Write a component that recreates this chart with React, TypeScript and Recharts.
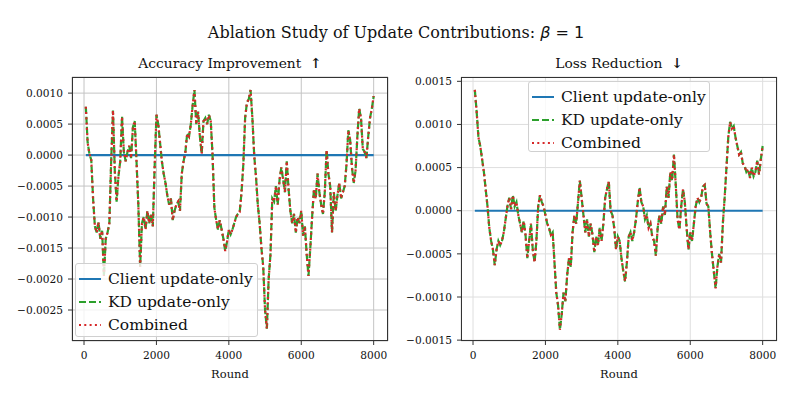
import { LineChart, Line, XAxis, YAxis, CartesianGrid } from "recharts";

const FONT = '"DejaVu Serif", serif';
const BLUE = "#1f77b4";
const GREEN = "#2ca02c";
const RED = "#d62728";

// rounds 50..8000, one sample every 50 rounds
const rounds = Array.from({ length: 160 }, (_, i) => (i + 1) * 50);

const xTicks = [0, 2000, 4000, 6000, 8000];
const accTicks = [-0.0025, -0.002, -0.0015, -0.001, -0.0005, 0, 0.0005, 0.001];
const lossTicks = [-0.0015, -0.001, -0.0005, 0, 0.0005, 0.001, 0.0015];

// Accuracy improvement (left panel)
const accuracyKd = [
  7.8e-4, 2.0e-4, 0.2e-4, -0.8e-4, -7e-4, -11.5e-4, -12.5e-4, -10.8e-4, -13.5e-4, -12.2e-4,
  -19.5e-4, -13.5e-4, -12.5e-4, -11e-4, -1e-4, 7.2e-4, -2.5e-4, -7.5e-4, -3.5e-4, -1e-4,
  6.2e-4, 0.5e-4, -1e-4, 0.5e-4, 1.5e-4, -0.5e-4, 4.5e-4, 5.5e-4, -1e-4, -8e-4,
  -18e-4, -11e-4, -10e-4, -12e-4, -9e-4, -11e-4, -9.5e-4, -11.5e-4, -2e-4, 6.5e-4,
  5e-4, 2e-4, -1e-4, -3e-4, -4.5e-4, -6.5e-4, -8e-4, -7e-4, -10.5e-4, -9e-4,
  -8e-4, -7.5e-4, -9e-4, -3e-4, -1e-4, 0.5e-4, 3.5e-4, 3e-4, 5e-4, 8e-4,
  10.5e-4, 5e-4, 7e-4, 3e-4, 0.2e-4, 5.5e-4, 6e-4, 5e-4, 6.5e-4, 5.5e-4,
  0, -8.5e-4, -10.5e-4, -12e-4, -10.5e-4, -12e-4, -13.5e-4, -15.5e-4, -14e-4, -12e-4,
  -12.8e-4, -12e-4, -11e-4, -10e-4, -9.5e-4, -9.2e-4, -6e-4, -1.5e-4, 6e-4, 8.5e-4,
  9e-4, 10.5e-4, 6e-4, 0, -3.5e-4, -8e-4, -11e-4, -15e-4, -18e-4, -25e-4,
  -28e-4, -20e-4, -16e-4, -7e-4, -7.5e-4, -5e-4, -8e-4, -4e-4, -2e-4, -4e-4,
  -6e-4, -1e-4, -5.5e-4, -9e-4, -11e-4, -9.5e-4, -12.5e-4, -10e-4, -11e-4, -9e-4,
  -13e-4, -11.5e-4, -16e-4, -19.5e-4, -15e-4, -10e-4, -5.5e-4, -7e-4, -3e-4, -6e-4,
  -8e-4, -9.5e-4, -6e-4, 0.8e-4, -3e-4, -5e-4, -12.5e-4, -6e-4, -9e-4, -6.5e-4,
  -4.5e-4, -7e-4, -6e-4, -5e-4, -1.5e-4, 4e-4, 2.5e-4, -2e-4, -4.5e-4, -2.5e-4,
  3e-4, 7.5e-4, 6e-4, 1e-4, 0.5e-4, -0.5e-4, 3e-4, 6e-4, 7.5e-4, 9.5e-4,
];
const accuracyCombined = accuracyKd;
const accuracyClient = rounds.map(() => 0);

// Loss reduction (right panel)
const lossKd = [
  14e-4, 11.5e-4, 8.5e-4, 7.5e-4, 6e-4, 4.5e-4, 2.5e-4, 0.5e-4, -2e-4, -3.5e-4,
  -4.5e-4, -6.3e-4, -4.5e-4, -3.5e-4, -4e-4, -3.5e-4, -2.5e-4, -1e-4, 0.5e-4, 1.5e-4,
  0.2e-4, 1.8e-4, 0.5e-4, 1e-4, -0.5e-4, -1.5e-4, -2.5e-4, -1.2e-4, -2.8e-4, -5.5e-4,
  -3.5e-4, -1.5e-4, -4.5e-4, -6e-4, -3.5e-4, 0.5e-4, 1.8e-4, 1e-4, 0.5e-4, -0.5e-4,
  -1.5e-4, -2e-4, -2.8e-4, -2.5e-4, -6e-4, -9.5e-4, -11e-4, -13.8e-4, -12e-4, -9.5e-4,
  -10.5e-4, -7.5e-4, -5.5e-4, -6.5e-4, -2.5e-4, -0.5e-4, -1.5e-4, 1e-4, 3.5e-4, 1.5e-4,
  -0.5e-4, -2.5e-4, -1e-4, -3e-4, -1.5e-4, -2.8e-4, -4.8e-4, -3e-4, -4e-4, -2e-4,
  -3.5e-4, -1.5e-4, 1.5e-4, 2.5e-4, 3.4e-4, 0, -0.5e-4, -2e-4, -4.5e-4, -3e-4,
  -3.5e-4, -5.5e-4, -7e-4, -8.2e-4, -6e-4, -3e-4, -2.5e-4, -3.5e-4, -2.5e-4, -1e-4,
  1e-4, 2.7e-4, 1e-4, 0.5e-4, -1e-4, -0.5e-4, -2e-4, -1.5e-4, -3e-4, -3.5e-4,
  -5.2e-4, -2e-4, -0.5e-4, -1.5e-4, 0.5e-4, -0.5e-4, 2.8e-4, 1.5e-4, 4.5e-4, 3.5e-4,
  6.5e-4, 3e-4, -1e-4, -2.2e-4, 0.5e-4, 2.5e-4, 1e-4, -2e-4, -4.5e-4, -2.5e-4,
  -3.5e-4, -1.5e-4, 0.5e-4, 1.5e-4, 1e-4, 1.5e-4, 2.8e-4, 3e-4, 0.8e-4, 0.5e-4,
  -2.5e-4, -5e-4, -7e-4, -9e-4, -6.5e-4, -5e-4, -6e-4, -1.5e-4, 1.5e-4, 5e-4,
  8.5e-4, 10.3e-4, 9.5e-4, 9.8e-4, 8.5e-4, 7.5e-4, 6.5e-4, 6.8e-4, 5.5e-4, 5.2e-4,
  4.5e-4, 4.8e-4, 3.8e-4, 5e-4, 4e-4, 4.5e-4, 5.8e-4, 4.2e-4, 6e-4, 7.5e-4,
];
const lossCombined = lossKd;
const lossClient = rounds.map(() => 0);

const accuracyData = rounds.map((r, i) => ({
  round: r,
  client: accuracyClient[i],
  kd: accuracyKd[i],
  combined: accuracyCombined[i],
}));
const lossData = rounds.map((r, i) => ({
  round: r,
  client: lossClient[i],
  kd: lossKd[i],
  combined: lossCombined[i],
}));

const fmt = (v: number) => v.toFixed(4).replace("-", "\u2212");
const tickStyle = { fontFamily: FONT, fontSize: 10.6, fill: "#111" };

function Legend({ left, top, width, height }: { left: number; top: number; width: number; height: number }) {
  const items = [
    { label: "Client update-only", color: BLUE, dash: undefined },
    { label: "KD update-only", color: GREEN, dash: "7 3" },
    { label: "Combined", color: RED, dash: "2 3.3" },
  ];
  return (
    <div
      style={{
        position: "absolute",
        left,
        top,
        width,
        height,
        background: "rgba(255,255,255,0.8)",
        border: "1px solid #d0d0d0",
        borderRadius: 3,
        boxSizing: "border-box",
        paddingTop: 3,
      }}
    >
      {items.map((it) => (
        <div key={it.label} style={{ display: "flex", alignItems: "center", height: 23 }}>
          <svg width={30} height={10} style={{ marginLeft: 2 }}>
            <line x1={1} y1={5} x2={23} y2={5} stroke={it.color} strokeWidth={2} strokeDasharray={it.dash} />
          </svg>
          <span style={{ fontFamily: FONT, fontSize: 15.5, color: "#111", whiteSpace: "nowrap" }}>{it.label}</span>
        </div>
      ))}
    </div>
  );
}

function Text({ x, y, size, children }: { x: number; y: number; size: number; children: React.ReactNode }) {
  return (
    <div
      style={{
        position: "absolute",
        left: x,
        top: y,
        transform: "translate(-50%, -50%)",
        fontFamily: FONT,
        fontSize: size,
        lineHeight: 1,
        color: "#111",
        whiteSpace: "nowrap",
      }}
    >
      {children}
    </div>
  );
}

function Panel({
  data,
  ticks,
  domain,
  yWidth,
  width,
  rightMargin,
  gridColor,
}: {
  data: typeof accuracyData;
  ticks: number[];
  domain: [number, number];
  yWidth: number;
  width: number;
  rightMargin: number;
  gridColor: string;
}) {
  return (
    <LineChart width={width} height={397} data={data} margin={{ top: 77, right: rightMargin, bottom: 26, left: 0 }}>
      <CartesianGrid stroke={gridColor} strokeWidth={1} />
      <XAxis
        dataKey="round"
        type="number"
        domain={[-332, 8396]}
        ticks={xTicks}
        height={30}
        axisLine={false}
        tickLine={{ stroke: "#333" }}
        tickSize={4}
        tickMargin={6}
        tick={tickStyle}
      />
      <YAxis
        type="number"
        domain={domain}
        ticks={ticks}
        width={yWidth}
        allowDataOverflow
        axisLine={false}
        tickLine={{ stroke: "#333" }}
        tickSize={4}
        tickMargin={5}
        tick={tickStyle}
        tickFormatter={fmt}
      />
      <Line dataKey="client" stroke={BLUE} strokeWidth={2.2} dot={false} isAnimationActive={false} />
      <Line dataKey="kd" stroke={GREEN} strokeWidth={2.2} strokeDasharray="7 3" dot={false} isAnimationActive={false} />
      <Line dataKey="combined" stroke={RED} strokeWidth={2.2} strokeDasharray="2 3.3" dot={false} isAnimationActive={false} />
    </LineChart>
  );
}

export default function App() {
  return (
    <div style={{ position: "absolute", left: 0, top: 0, width: 793, height: 397, background: "#fff", overflow: "hidden" }}>
      <div style={{ position: "absolute", left: 0, top: 0 }}>
        <Panel data={accuracyData} ticks={accTicks} domain={[-0.003, 0.00126]} yWidth={72} width={400} rightMargin={12} gridColor="#c4c4c4" />
      </div>
      <div style={{ position: "absolute", left: 400, top: 0 }}>
        <Panel data={lossData} ticks={lossTicks} domain={[-0.00151, 0.00155]} yWidth={61} width={393} rightMargin={16} gridColor="#dedede" />
      </div>
      {/* axes frames */}
      <div style={{ position: "absolute", left: 72, top: 77, width: 316, height: 264, border: "1.3px solid #333", boxSizing: "border-box" }} />
      <div style={{ position: "absolute", left: 461, top: 77, width: 316, height: 264, border: "1.3px solid #333", boxSizing: "border-box" }} />

      <Text x={396} y={33} size={16}>
        Ablation Study of Update Contributions:{" "}
        <span style={{ fontFamily: '"DejaVu Sans", sans-serif' }}>
          <i>β</i> = 1
        </span>
      </Text>
      <Text x={230} y={64} size={13.8}>Accuracy Improvement&nbsp;&nbsp;<b>↑</b></Text>
      <Text x={619} y={64} size={13.8}>Loss Reduction&nbsp;&nbsp;<b>↓</b></Text>
      <Text x={230} y={375} size={11.5}>Round</Text>
      <Text x={619} y={375} size={11.5}>Round</Text>

      <Legend left={75} top={263} width={183} height={74} />
      <Legend left={528} top={81} width={182} height={71} />
    </div>
  );
}
